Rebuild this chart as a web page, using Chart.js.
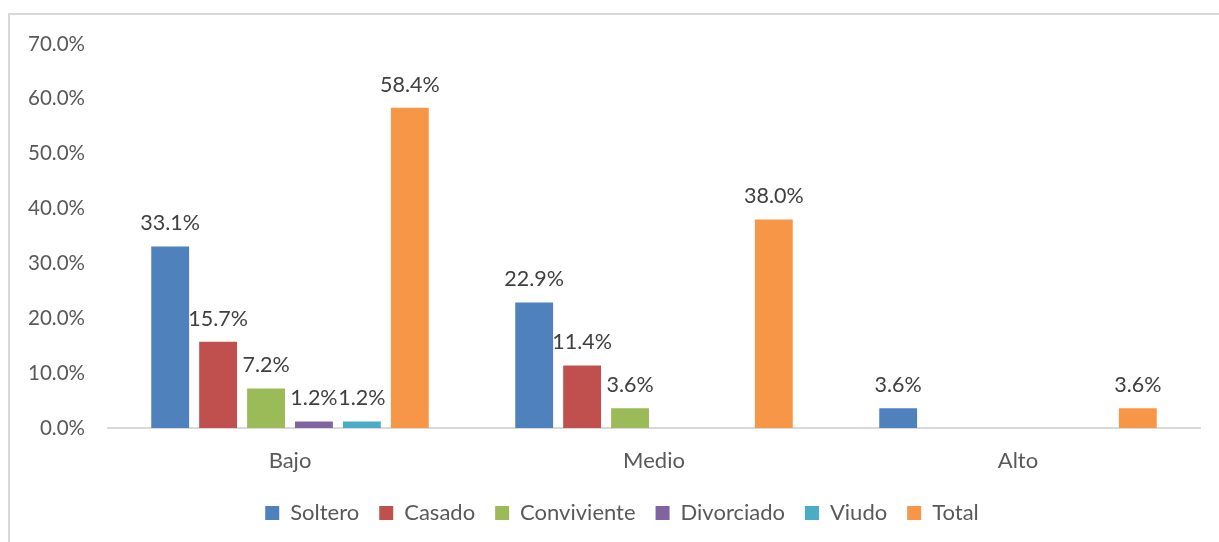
<!DOCTYPE html>
<html>
<head>
<meta charset="utf-8">
<script src="https://cdn.jsdelivr.net/npm/chart.js@4/dist/chart.umd.min.js"></script>
<style>
  body { margin: 0; background: #fff; }
  #frame { position: absolute; left: 8px; top: 13px; width: 1220px; height: 540px; border: 2px solid #d9d9d9; box-sizing: border-box; }
  #wrap { position: absolute; left: 0; top: 0; width: 1219px; height: 542px; }
</style>
</head>
<body>
<div id="frame"></div>
<div id="wrap"><canvas id="grafico"></canvas></div>
<script>
const categorias = ["Bajo", "Medio", "Alto"];
const soltero = [33.1, 22.9, 3.6];
const casado = [15.7, 11.4, null];
const conviviente = [7.2, 3.6, null];
const divorciado = [1.2, null, null];
const viudo = [1.2, null, null];
const total = [58.4, 38.0, 3.6];

const FONT = "Lato, 'Open Sans', sans-serif";

// etiquetas de datos encima de cada barra
const etiquetas = {
  id: "etiquetas",
  afterLayout(chart) {
    // la leyenda del original va algo corrida a la derecha y arriba
    chart.legend.left += 22;
    chart.legend.right += 22;
    chart.legend.top -= 4;
    chart.legend.bottom -= 4;
  },
  afterDatasetsDraw(chart) {
    const ctx = chart.ctx;
    ctx.save();
    ctx.font = "21.5px " + FONT;
    ctx.fillStyle = "#404040";
    ctx.textAlign = "center";
    ctx.textBaseline = "middle";
    chart.data.datasets.forEach((ds, i) => {
      chart.getDatasetMeta(i).data.forEach((bar, j) => {
        const v = ds.data[j];
        if (v === null) return;
        ctx.fillText(v.toFixed(1) + "%", bar.x, bar.y - 23);
      });
    });
    ctx.restore();
  },
};

const serie = (label, data, color) => ({
  label,
  data,
  backgroundColor: color,
  categoryPercentage: 0.79,
  barPercentage: 0.79,
});

new Chart(document.getElementById("grafico"), {
  type: "bar",
  data: {
    labels: categorias,
    datasets: [
      serie("Soltero", soltero, "#4F81BD"),
      serie("Casado", casado, "#C0504D"),
      serie("Conviviente", conviviente, "#9BBB59"),
      serie("Divorciado", divorciado, "#8064A2"),
      serie("Viudo", viudo, "#4BACC6"),
      serie("Total", total, "#F79646"),
    ],
  },
  options: {
    responsive: true,
    maintainAspectRatio: false,
    animation: false,
    layout: { padding: { top: 44, right: 19, left: 0, bottom: 4 } },
    plugins: {
      tooltip: { enabled: false },
      legend: {
        position: "bottom",
        labels: {
          boxWidth: 14,
          boxHeight: 14,
          padding: 20,
          color: "#595959",
          font: { family: FONT, size: 22 },
        },
      },
    },
    scales: {
      x: {
        grid: { display: false },
        border: { color: "#d9d9d9", width: 2 },
        ticks: { color: "#595959", padding: 12, font: { family: FONT, size: 22 } },
        afterFit(s) { s.height = 58; },
      },
      y: {
        min: 0,
        max: 70,
        grid: { display: false },
        border: { display: false },
        ticks: {
          stepSize: 10,
          color: "#595959",
          padding: 15,
          font: { family: FONT, size: 20.5 },
          callback: (v) => v.toFixed(1) + "%",
        },
        afterFit(s) { s.width = 108; },
      },
    },
  },
  plugins: [etiquetas],
});
</script>
</body>
</html>
